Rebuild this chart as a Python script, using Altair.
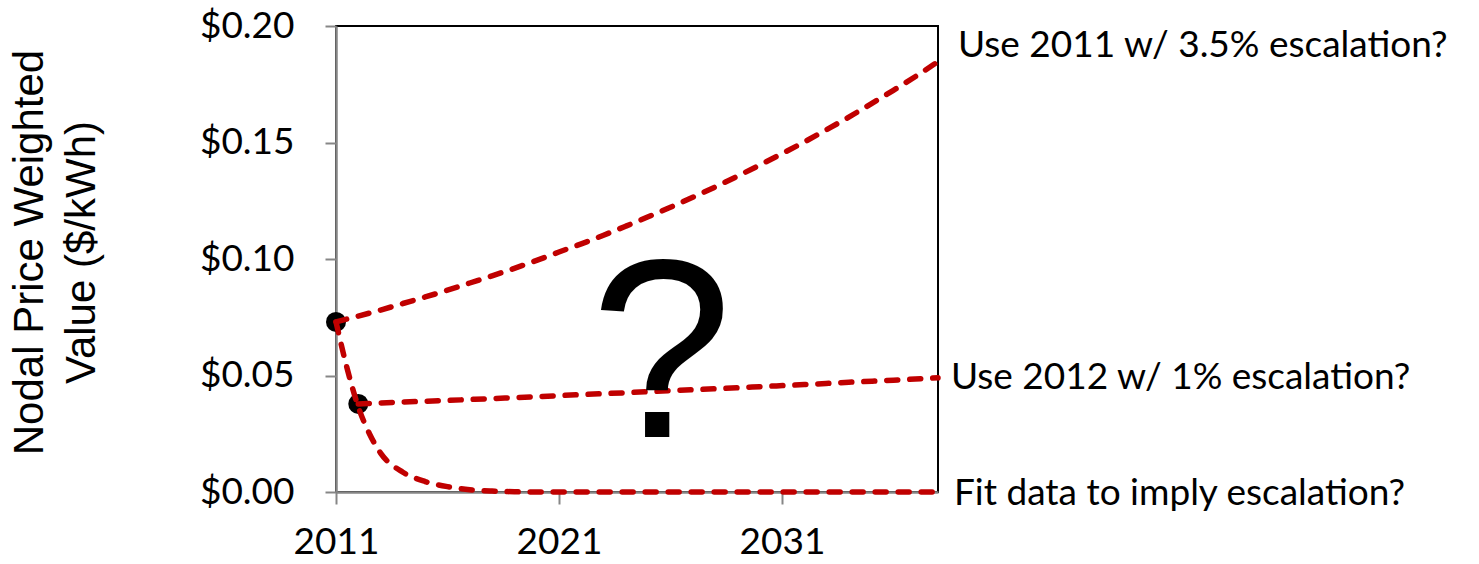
import altair as alt
import pandas as pd

# Scenario 1: 2011 value escalated at 3.5% per year
years_high = list(range(2011, 2039))
value_high = [0.0730, 0.0755, 0.0781, 0.0809, 0.0837, 0.0866, 0.0897, 0.0928,
              0.0960, 0.0994, 0.1030, 0.1065, 0.1102, 0.1141, 0.1181, 0.1222,
              0.1265, 0.1309, 0.1355, 0.1403, 0.1452, 0.1502, 0.1555, 0.1609,
              0.1666, 0.1724, 0.1784, 0.1847]

# Scenario 2: 2012 value escalated at 1% per year
years_flat = [2012, 2014, 2016, 2018, 2020, 2022, 2024, 2026, 2028, 2030,
              2032, 2034, 2036, 2038]
value_flat = [0.0378, 0.0386, 0.0393, 0.0401, 0.0409, 0.0418, 0.0426, 0.0435,
              0.0443, 0.0452, 0.0461, 0.0471, 0.0480, 0.0490]

# Scenario 3: curve fitted through the observed points
years_fit = [2011, 2011.5, 2012, 2012.5, 2013, 2014, 2015, 2016, 2017, 2018,
             2019, 2020, 2038]
value_fit = [0.0730, 0.0530, 0.0365, 0.0250, 0.0167, 0.0085, 0.0045, 0.0023,
             0.0010, 0.0004, 0.0001, 0.0, 0.0]

# Observed values
obs_years = [2011, 2012]
obs_values = [0.0730, 0.0378]

# Scenario labels and the level each one sits at on the right
label_texts = ["Use 2011 w/ 3.5% escalation?", "Use 2012 w/ 1% escalation?",
               "Fit data to imply escalation?"]
label_levels = [0.1915, 0.0488, -0.0010]

x_ticks = [2011, 2021, 2031]
y_ticks = [0.0, 0.05, 0.10, 0.15, 0.20]

W, H = 602, 466
RED = "#C00000"
GRAY = "#868686"
TICK_FONT = "Lato"
TICK_SIZE = 37

lines_df = pd.concat([
    pd.DataFrame({"year": years_high, "value": value_high, "series": "high"}),
    pd.DataFrame({"year": years_flat, "value": value_flat, "series": "flat"}),
    pd.DataFrame({"year": years_fit, "value": value_fit, "series": "fit"}),
], ignore_index=True)
obs_df = pd.DataFrame({"year": obs_years, "value": obs_values})

x_scale = alt.Scale(domain=[2011, 2038], nice=False, zero=False)
y_scale = alt.Scale(domain=[0, 0.2], nice=False)

x_enc = alt.X("year:Q", scale=x_scale, axis=alt.Axis(
    values=x_ticks, format="d", title=None, grid=False,
    domainColor=GRAY, domainWidth=2.5, tickColor=GRAY, tickWidth=2, tickSize=12,
    labelFont=TICK_FONT, labelFontSize=TICK_SIZE, labelColor="black", labelPadding=20,
    labelFlush=False,
))
y_enc = alt.Y("value:Q", scale=y_scale, axis=alt.Axis(
    values=y_ticks, format="$.2f", grid=False,
    domainColor=GRAY, domainWidth=2.5, tickColor=GRAY, tickWidth=2, tickSize=11,
    labelFont=TICK_FONT, labelFontSize=TICK_SIZE, labelColor="black", labelPadding=31,
    title=["Nodal Price Weighted", "Value ($/kWh)"],
    titleFont="Liberation Sans", titleFontSize=42, titleFontWeight="normal",
    titleColor="black", titleAngle=-90, titleAlign="center",
    titleBaseline="top", titleLineHeight=52, titleX=-327, titleY=226,
))

points = alt.Chart(obs_df).mark_circle(size=400, color="black", opacity=1).encode(
    x=x_enc, y=y_enc
)

lines = alt.Chart(lines_df).mark_line(
    color=RED, strokeWidth=5.5, strokeDash=[11, 12], strokeCap="round",
    interpolate="monotone",
).encode(
    x="year:Q", y="value:Q", detail="series:N", order="year:Q"
)

question = alt.Chart(pd.DataFrame({"year": [2025.6], "value": [0.0236], "t": ["?"]})).mark_text(
    font="Liberation Sans", fontSize=255, color="black", align="center",
    baseline="alphabetic",
).encode(x="year:Q", y="value:Q", text="t:N")

label_offsets = [622, 615, 618]
labels = []
for txt, lvl, off in zip(label_texts, label_levels, label_offsets):
    labels.append(
        alt.Chart(pd.DataFrame({"value": [lvl], "t": [txt]})).mark_text(
            font=TICK_FONT, fontSize=TICK_SIZE, color="black", align="left",
            baseline="middle",
        ).encode(x=alt.value(off), y="value:Q", text="t:N")
    )

chart = alt.layer(points, lines, question, *labels).properties(
    width=W, height=H,
    autosize=alt.AutoSizeParams(type="none"),
    padding={"left": 336, "top": 26, "right": 1479 - 336 - W, "bottom": 564 - 26 - H},
).configure(
    background="white"
).configure_view(
    stroke="black", strokeWidth=2
)

chart.save("out.html", embed_options={"renderer": "svg", "actions": False})
